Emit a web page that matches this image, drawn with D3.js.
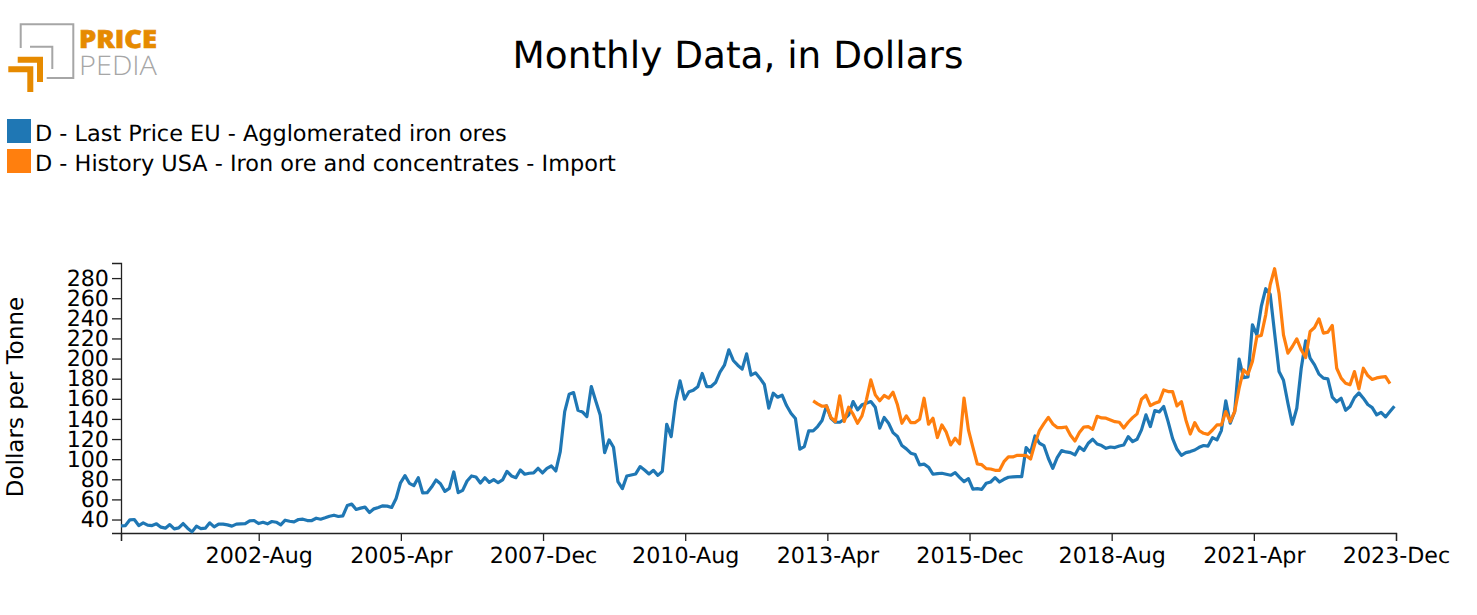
<!DOCTYPE html>
<html lang="en">
<head>
  <meta charset="UTF-8">
  <title>Monthly Data, in Dollars</title>
  <script src="https://d3js.org/d3.v7.min.js"></script>
  <style>
    body { margin: 0; overflow: hidden; background: #fff; }
    svg { display: block; font-family: "DejaVu Sans", sans-serif; text-rendering: geometricPrecision; }
    .axis text { font-size: 22.2px; fill: #000; font-family: "DejaVu Sans", sans-serif; }
    .axis path, .axis line { stroke: #222; stroke-width: 1.3px; }
    .series { fill: none; stroke-width: 3.2px; stroke-linejoin: round; }
    .legend text { font-size: 22.4px; }
  </style>
</head>
<body>
<svg width="1477" height="615"></svg>

<script>
const titleText = 'Monthly Data, in Dollars';
const yAxisTitle = 'Dollars per Tonne';
const seriesNames = [
  'D - Last Price EU - Agglomerated iron ores',
  'D - History USA - Iron ore and concentrates - Import'
];
const seriesColors = ['#1f77b4', '#ff7f0e'];
const yTicks = [40, 60, 80, 100, 120, 140, 160, 180, 200, 220, 240, 260, 280];
const xTickMonths = [31, 63, 95, 127, 159, 191, 223, 255, 287];

// monthly, from 2000-Jan
const startYear = 2000;
const euPrice = [
  33.7, 34, 39.7, 40, 34, 36.7, 34.4, 34, 35.7, 32.4, 31.4, 35,
  30.7, 31.7, 36, 31.4, 27.7, 33.4, 31, 31.4, 36.7, 32.7, 35.4, 35.4,
  34.7, 33.4, 35.4, 35.7, 36, 38.7, 39, 36, 37.3, 35.7, 38, 37.3,
  34.7, 39.3, 38.3, 37.7, 40, 40.3, 39, 39, 41.3, 40.3, 41.7, 43.3,
  44.3, 43, 43.6, 53.9, 55.3, 50, 51.3, 52.3, 47, 50.6, 52, 53.6,
  53.3, 52, 60.9, 76.5, 83.6, 76, 73.7, 81.6, 66.4, 66.7, 72.3, 79.3,
  75.6, 68, 71, 87.3, 66.7, 69, 78.3, 83.3, 82.3, 76.3, 81.6, 77,
  79.6, 76.6, 79.3, 87.9, 83.3, 81.6, 89.2, 85, 86, 86.3, 90.9, 86.3,
  90.9, 93.2, 88.3, 107.5, 147.3, 164.5, 166.2, 148.6, 147, 142.3, 172.2, 157.9,
  144, 106.5, 119.1, 111.8, 77.6, 70.7, 83.3, 84.3, 85.3, 92.6, 89.2, 85.3,
  88.9, 83.9, 87.9, 134.7, 122.4, 157.2, 177.8, 159.6, 167, 168.6, 171.9, 185.2,
  172.2, 172.2, 176.2, 186.5, 193.4, 208.7, 198.1, 193.4, 189.5, 204.7, 183.5, 185.8,
  180.5, 174.2, 150.7, 165.6, 161.6, 163.6, 153.3, 145.7, 140.4, 109.9, 112.5, 128.1,
  128.1, 132.4, 138.4, 153, 140.7, 136.7, 136.7, 139.7, 144, 157.3, 149, 154,
  155.6, 157.3, 151.6, 130.8, 141.4, 135.7, 126.4, 122.5, 113.5, 110.2, 105.9, 104.6,
  94.3, 95, 92, 85, 85.7, 86, 85, 84, 86.6, 82, 77.6, 80.6,
  70.3, 70.7, 70, 76, 77.3, 81.6, 77.3, 80, 82, 82.3, 82.6, 82.6,
  111.5, 106.5, 123.1, 115.8, 113.5, 100.9, 90.9, 101.5, 108.5, 107.2, 106.5, 104.2,
  112.1, 108.5, 115.8, 119.8, 115.1, 113.5, 110.8, 112.1, 111.5, 113.1, 114.1, 122.4,
  117.4, 119.8, 129.1, 144, 132.4, 148.3, 147, 152.3, 137.3, 120.7, 109.8, 103.8,
  106.5, 107.5, 109.1, 111.8, 113.6, 113, 121.4, 119.1, 128.4, 158, 135.7, 147.3,
  199.4, 181.1, 181.8, 233.6, 223.6, 251.8, 269.4, 264, 225.3, 187.1, 178.5, 155.6,
  134.7, 150.6, 190.4, 217.6, 200.4, 193.7, 184.5, 180.5, 179.8, 161.6, 157, 160.6,
  148.6, 152.3, 161.2, 165.9, 160.6, 154.3, 151.3, 144, 146.6, 142, 147.3, 152.6
];

// starts 2013-Jan
const usaStartMonth = 156;
const usaPrice = [
  158, 155, 152.6, 153, 141.4, 137.4, 162.9, 137.4, 151.6, 144.7, 135.7, 143,
  159, 178.8, 163.9, 158, 163.3, 160.6, 166.6, 154, 135.7, 143, 136.4, 136.4,
  139.7, 160.6, 134.7, 140.7, 121.5, 134, 126.8, 114.2, 120.8, 115.2, 160.8, 129,
  111.8, 95.2, 94.5, 90.6, 90.2, 88.9, 88.9, 97.5, 102.2, 102.2, 103.8, 103.8,
  103.5, 100.2, 115.8, 128.4, 135.3, 141.6, 135, 131.4, 131.4, 132, 123.7, 118.1,
  126.4, 132, 132.4, 129.7, 142.6, 141, 140.7, 139, 137.3, 136.7, 131, 136.7,
  141.3, 145, 159.6, 163.5, 153.3, 155.6, 157.2, 168.8, 167.2, 167.2, 152.9, 157.2,
  139, 125, 136.3, 128.4, 125.7, 124.7, 129, 134, 134, 147.3, 137.4, 147.3,
  170.5, 188.8, 184.5, 197.1, 221.9, 222.9, 243.5, 273.4, 289.3, 265, 223.6, 205.4,
  212, 219.6, 208.7, 201, 226.9, 230.9, 239.5, 225.3, 226.3, 232.9, 190.4, 180.5,
  175.5, 173.9, 187.1, 169.9, 190.4, 183.1, 179.2, 180.8, 181.5, 182.1, 175.2
];

const monthNames = ['Jan', 'Feb', 'Mar', 'Apr', 'May', 'Jun', 'Jul', 'Aug', 'Sep', 'Oct', 'Nov', 'Dec'];
const monthLabel = m => `${startYear + Math.floor(m / 12)}-${monthNames[m % 12]}`;

const svg = d3.select('svg');

const x = d3.scaleLinear().domain([0, 287]).range([121, 1396]);
// the lines stop a little short of the last tick
const xLine = d3.scaleLinear().domain([0, 287]).range([121, 1394.4]);
const y = d3.scaleLinear().domain([26.6, 295]).range([533, 263]);

const xAxis = d3.axisBottom(x)
  .tickValues([0].concat(xTickMonths))
  .tickFormat(m => m === 0 ? '' : monthLabel(m))
  .tickSize(8)
  .tickPadding(4);
const yAxis = d3.axisLeft(y).tickValues(yTicks).tickSize(9).tickPadding(3);

svg.append('g').attr('class', 'axis').attr('transform', 'translate(0,533)').call(xAxis)
  .selectAll('text').attr('dy', '0.79em');
svg.append('g').attr('class', 'axis').attr('transform', 'translate(121,0)').call(yAxis);

const line = d3.line().x(d => xLine(d.m)).y(d => y(d.v));
const euPoints = euPrice.map((v, i) => ({ m: i, v }));
const usaPoints = usaPrice.map((v, i) => ({ m: usaStartMonth + i, v }));

svg.append('path').datum(euPoints).attr('class', 'series').attr('stroke', seriesColors[0]).attr('d', line);
svg.append('path').datum(usaPoints).attr('class', 'series').attr('stroke', seriesColors[1]).attr('d', line);

svg.append('text')
  .attr('transform', 'translate(23,397) rotate(-90)')
  .attr('text-anchor', 'middle')
  .attr('font-size', 23)
  .text(yAxisTitle);

svg.append('text')
  .attr('x', 738)
  .attr('y', 68)
  .attr('text-anchor', 'middle')
  .attr('font-size', 37.4)
  .text(titleText);

// legend
const legend = svg.append('g').attr('class', 'legend')
  .selectAll('g').data(seriesNames).enter().append('g')
  .attr('transform', (d, i) => `translate(7,${119 + i * 30})`);
legend.append('rect')
  .attr('width', 24).attr('height', 24)
  .attr('fill', (d, i) => seriesColors[i]);
legend.append('text')
  .attr('x', 28).attr('y', 22)
  .text(d => d);

// logo
const logo = svg.append('g').attr('fill', 'none');
logo.append('path').attr('d', 'M20.700,48V24.300H73.300V78H46.700').attr('stroke', '#a6a6a6').attr('stroke-width', 2);
logo.append('path').attr('d', 'M30,46.700H52.300V69').attr('stroke', '#a6a6a6').attr('stroke-width', 2);
logo.append('path').attr('d', 'M17.700,59.700H40V82').attr('stroke', '#e68a00').attr('stroke-width', 6);
logo.append('path').attr('d', 'M8.300,69.200H30.300V92').attr('stroke', '#e68a00').attr('stroke-width', 6);
logo.append('text').attr('x', 79).attr('y', 48)
  .attr('font-family', 'Open Sans').attr('font-weight', 800).attr('font-size', 25)
  .attr('textLength', 78).attr('lengthAdjust', 'spacingAndGlyphs')
  .attr('fill', '#e68a00').attr('stroke', '#e68a00').attr('stroke-width', 0.6).text('PRICE');
logo.append('text').attr('x', 79).attr('y', 75)
  .attr('font-family', 'Open Sans').attr('font-weight', 300).attr('font-size', 27)
  .attr('textLength', 78).attr('lengthAdjust', 'spacingAndGlyphs')
  .attr('fill', '#a6a6a6').text('PEDIA');
</script>

</body>
</html>
